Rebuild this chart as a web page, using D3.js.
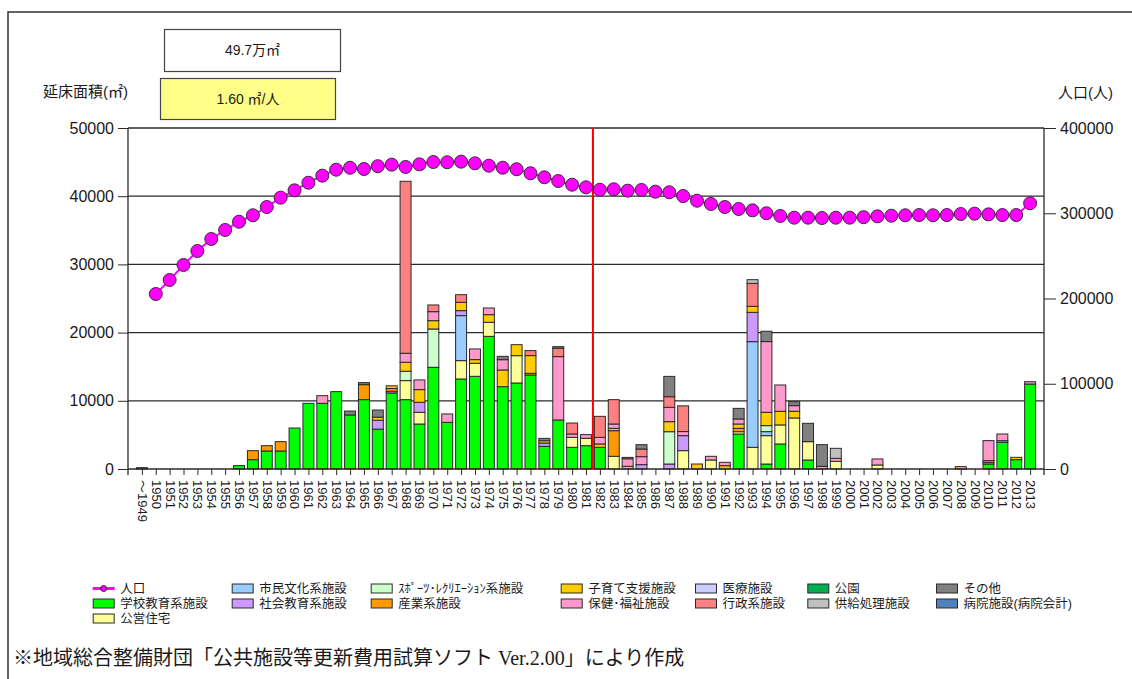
<!DOCTYPE html>
<html>
<head>
<meta charset="utf-8">
<script src="https://cdn.jsdelivr.net/npm/d3@7"></script>
<style>
body { margin: 0; background: #fff; }
svg text { font-family: "Liberation Sans", Arial, "Noto Sans CJK JP", sans-serif; fill: #1a1a1a; }
</style>
</head>
<body>
<div id="chart-area"></div>
<script>
// categories
var years = ["～1949","1950","1951","1952","1953","1954","1955","1956","1957","1958","1959",
    "1960","1961","1962","1963","1964","1965","1966","1967","1968","1969",
    "1970","1971","1972","1973","1974","1975","1976","1977","1978","1979",
    "1980","1981","1982","1983","1984","1985","1986","1987","1988","1989",
    "1990","1991","1992","1993","1994","1995","1996","1997","1998","1999",
    "2000","2001","2002","2003","2004","2005","2006","2007","2008","2009",
    "2010","2011","2012","2013"]

// population (人), right axis
var population = [null,205300,221700,239300,255700,269800,280400,290100,297600,307300,318300,
    326900,335800,344100,351100,353400,351900,355200,357000,354300,357400,
    360100,359800,360500,358600,355800,353400,351600,346900,342200,337800,
    333500,330400,327600,328100,326500,327300,325300,324600,320200,314700,
    310900,307300,305000,303400,300000,296800,294800,294800,294400,294800,
    294800,295400,296400,297100,297600,297900,297600,297900,299100,299500,
    298700,297900,297900,311700]

// floor area (㎡) by facility type, [year, value]
var school = [["～1949",200],["1956",500],["1957",1370],["1958",2640],["1959",2640],["1960",6010],
    ["1961",9630],["1962",9630],["1963",11340],["1964",7920],["1965",10170],["1966",5850],
    ["1967",11150],["1968",10170],["1969",6600],["1970",14910],["1971",6840],["1972",13200],
    ["1973",13590],["1974",19450],["1975",12070],["1976",12610],["1977",13780],["1978",3320],
    ["1979",7190],["1980",3180],["1981",3420],["1982",3180],["1992",5130],["1994",730],
    ["1995",3670],["1997",1320],["2010",730],["2011",3910],["2012",1370],["2013",12460]]
var housing = [["1968",2790],["1969",1710],["1972",2690],["1973",1910],["1974",2060],["1976",4010],
    ["1980",1460],["1981",1080],["1983",1860],["1988",2690],["1990",1320],["1992",340],
    ["1993",3180],["1994",4160],["1995",2790],["1996",7480],["1997",2690],["1999",1120],["2002",590]]
var culture = [["1972",6600],["1993",15490],["1994",590]]
var socialEdu = [["1966",1300],["1967",250],["1969",1470],["1972",730],["1978",490],["1985",640],
    ["1987",730],["1988",2200],["1993",4300]]
var sports = [["1968",1370],["1970",5620],["1987",4740],["1994",880]]
var industry = [["1957",1320],["1958",780],["1959",1370],["1965",2200],["1967",400],["1977",250],
    ["1983",3760],["1992",490],["2010",250]]
var childcare = [["1966",450],["1967",400],["1968",1320],["1969",1860],["1970",1220],["1972",1220],
    ["1973",540],["1974",1120],["1975",2450],["1976",1610],["1977",2600],["1978",340],["1982",490],
    ["1983",340],["1984",400],["1987",1470],["1989",730],["1991",490],["1992",640],["1993",880],
    ["1994",1960],["1995",2000],["1996",980],["2008",350],["2010",250],["2011",240],["2012",340]]
var welfare = [["1962",1120],["1968",1320],["1969",1420],["1970",1320],["1971",1230],["1973",1560],
    ["1974",980],["1975",1510],["1979",9290],["1980",500],["1981",540],["1982",970],["1983",640],
    ["1984",1100],["1985",1170],["1987",2100],["1988",600],["1990",540],["1991",490],["1992",730],
    ["1994",10360],["1995",3860],["1996",830],["1998",390],["1999",440],["2002",880],["2010",2930],
    ["2011",980],["2013",340]]
var medical = []
var admin = [["1968",25220],["1970",980],["1972",1120],["1977",730],["1979",1220],["1980",1600],
    ["1982",3080],["1983",3570],["1984",200],["1985",1120],["1987",1560],["1988",3770],["1993",3370]]
var park = []
var supply = [["1993",540],["1999",1470]]
var other = [["1964",580],["1965",300],["1966",1050],["1975",490],["1978",340],["1979",240],
    ["1985",640],["1987",2980],["1992",1560],["1994",1520],["1996",580],["1997",2690],["1998",3180]]
var hospital = []

var seriesNames = ["学校教育系施設","公営住宅","市民文化系施設","社会教育系施設","ｽﾎﾟｰﾂ･ﾚｸﾘｴｰｼｮﾝ系施設",
    "産業系施設","子育て支援施設","保健･福祉施設","医療施設","行政系施設","公園","供給処理施設",
    "その他","病院施設(病院会計)"]
var seriesData = [school, housing, culture, socialEdu, sports, industry, childcare, welfare,
    medical, admin, park, supply, other, hospital]
var seriesColors = ["#00FF00","#FFFF99","#99CCFF","#CC99FF","#CCFFCC","#FF9900","#FFCC00",
    "#FF99CC","#CCCCFF","#FF8080","#00B050","#C0C0C0","#808080","#4F81BD"]

var leftTicks = [0, 10000, 20000, 30000, 40000, 50000]
var rightTicks = [0, 100000, 200000, 300000, 400000]
var totalArea = "49.7万㎡"
var perCapita = "1.60 ㎡/人"

var margin = { left:128, right:88, top:128, bottom:210 }
var width = 1132 - margin.left - margin.right,
    height = 679 - margin.top - margin.bottom

var svg = d3.select("#chart-area")
    .append("svg")
    .attr("width", 1132)
    .attr("height", 679)

// outer frame
svg.append("path")
    .attr("d", "M8,679 L8,12 L1132,12")
    .attr("fill", "none")
    .attr("stroke", "#333")
    .attr("stroke-width", 1.5)

var g = svg.append("g")
    .attr("transform", "translate(" + margin.left + ", " + margin.top + ")")

var x = d3.scalePoint()
    .domain(years)
    .range([0, width])
    .padding(1)
var y = d3.scaleLinear()
    .domain([0, 50000])
    .range([height, 0])
var y2 = d3.scaleLinear()
    .domain([0, 400000])
    .range([height, 0])

// build table for stacking
var keys = seriesNames
var table = years.map(yr => {
    var row = { year: yr }
    seriesData.forEach((s, i) => {
        var hit = s.find(p => p[0] === yr)
        row[keys[i]] = hit ? hit[1] : 0
    })
    return row
})
var stacked = d3.stack().keys(keys)(table)
var color = d3.scaleOrdinal().domain(keys).range(seriesColors)

// gridlines
g.selectAll("line.grid")
    .data(leftTicks.filter(d => d > 0))
    .enter().append("line")
    .attr("class", "grid")
    .attr("x1", 0).attr("x2", width)
    .attr("y1", d => y(d)).attr("y2", d => y(d))
    .attr("stroke", "#2a2a2a")
    .attr("stroke-width", 1.2)

// bars
var barW = x.step() * 0.79
g.selectAll("g.layer")
    .data(stacked)
    .enter().append("g")
    .attr("class", "layer")
    .attr("fill", d => color(d.key))
    .selectAll("rect")
    .data(d => d.filter(s => s[1] > s[0]))
    .enter().append("rect")
    .attr("x", d => x(d.data.year) - barW / 2)
    .attr("y", d => y(d[1]))
    .attr("width", barW)
    .attr("height", d => y(d[0]) - y(d[1]))
    .attr("stroke", "#2a2a2a")
    .attr("stroke-width", 1)

// axes
var leftAxis = d3.axisLeft(y)
    .tickValues(leftTicks)
    .tickSize(10)
    .tickSizeOuter(0)
    .tickPadding(4)
    .tickFormat(d3.format("d"))
g.append("g")
    .attr("class", "y axis")
    .call(leftAxis)
    .call(a => a.select(".domain").remove())
    .selectAll("text").style("font-size", "16px")

var rightAxis = d3.axisRight(y2)
    .tickValues(rightTicks)
    .tickSize(12)
    .tickSizeOuter(0)
    .tickPadding(4)
    .tickFormat(d3.format("d"))
g.append("g")
    .attr("class", "y2 axis")
    .attr("transform", "translate(" + width + ",0)")
    .call(rightAxis)
    .call(a => a.select(".domain").remove())
    .selectAll("text").style("font-size", "16px")

var bottomAxis = d3.axisBottom(x)
    .tickSize(6)
    .tickSizeOuter(0)
g.append("g")
    .attr("class", "x axis")
    .attr("transform", "translate(0," + height + ")")
    .call(bottomAxis)
    .call(a => a.select(".domain").remove())
    .selectAll("text")
    .attr("transform", "rotate(90)")
    .attr("x", 11)
    .attr("y", 0)
    .attr("dy", "0.35em")
    .attr("text-anchor", "start")
    .style("font-size", "13px")

g.selectAll(".axis line").attr("stroke", "#2a2a2a")

// axis lines
g.append("line").attr("x1", 0).attr("x2", 0).attr("y1", 0).attr("y2", height + 6)
    .attr("stroke", "#2a2a2a").attr("stroke-width", 1.3)
g.append("line").attr("x1", width).attr("x2", width).attr("y1", 0).attr("y2", height + 6)
    .attr("stroke", "#2a2a2a").attr("stroke-width", 1.3)
g.append("line").attr("x1", 0).attr("x2", width).attr("y1", 0).attr("y2", 0)
    .attr("stroke", "#2a2a2a").attr("stroke-width", 1.2)
g.append("line").attr("x1", 0).attr("x2", width).attr("y1", height).attr("y2", height)
    .attr("stroke", "#2a2a2a").attr("stroke-width", 1.3)

// red marker between 1981 and 1982
var redX = (x("1981") + x("1982")) / 2
g.append("line")
    .attr("x1", redX).attr("x2", redX)
    .attr("y1", 0).attr("y2", height)
    .attr("stroke", "#FF0000")
    .attr("stroke-width", 2)

// population line
var popData = years.map((yr, i) => ({ year: yr, pop: population[i] }))
var line = d3.line()
    .defined(d => d.pop != null)
    .x(d => x(d.year))
    .y(d => y2(d.pop))
g.append("path")
    .datum(popData)
    .attr("fill", "none")
    .attr("stroke", "#FF00FF")
    .attr("stroke-width", 2)
    .attr("d", line)
g.selectAll("circle.pop")
    .data(popData.filter(d => d.pop != null))
    .enter().append("circle")
    .attr("class", "pop")
    .attr("cx", d => x(d.year))
    .attr("cy", d => y2(d.pop))
    .attr("r", 6.5)
    .attr("fill", "#FF00FF")
    .attr("stroke", "#3a2a3a")
    .attr("stroke-width", 1)

// axis titles
svg.append("text")
    .attr("x", 43).attr("y", 92)
    .attr("dy", "0.35em")
    .style("font-size", "15px")
    .text("延床面積(㎡)")
svg.append("text")
    .attr("x", 1058).attr("y", 93)
    .attr("dy", "0.35em")
    .style("font-size", "15px")
    .text("人口(人)")

// summary boxes
svg.append("rect")
    .attr("x", 164.5).attr("y", 29.5).attr("width", 176).attr("height", 42)
    .attr("fill", "#fff").attr("stroke", "#444").attr("stroke-width", 1.2)
svg.append("text")
    .attr("x", 252.5).attr("y", 50.5).attr("dy", "0.35em")
    .attr("text-anchor", "middle")
    .style("font-size", "14px")
    .text(totalArea)
svg.append("rect")
    .attr("x", 160.5).attr("y", 78.5).attr("width", 175).attr("height", 41)
    .attr("fill", "#FFFF88").attr("stroke", "#444").attr("stroke-width", 1.2)
svg.append("text")
    .attr("x", 248).attr("y", 99).attr("dy", "0.35em")
    .attr("text-anchor", "middle")
    .style("font-size", "14px")
    .text(perCapita)

// legend
var legendColX = [92.7, 231.7, 370.7, 560.7, 695, 807.3, 936]
var legendRowY = [588.5, 603.5, 618.5]
var legend = svg.append("g").attr("class", "legend")

var popItem = legend.append("g")
    .attr("transform", "translate(" + legendColX[0] + "," + legendRowY[0] + ")")
popItem.append("line").attr("x1", 0).attr("x2", 22).attr("y1", 0).attr("y2", 0)
    .attr("stroke", "#FF00FF").attr("stroke-width", 3)
popItem.append("circle").attr("cx", 11).attr("cy", 0).attr("r", 3)
    .attr("fill", "#FF00FF").attr("stroke", "#3a2a3a").attr("stroke-width", 1)
popItem.append("text").attr("x", 27.5).attr("y", 0).attr("dy", "0.36em")
    .style("font-size", "12.5px").text("人口")

keys.forEach((k, i) => {
    var col = i < 2 ? 0 : Math.floor((i - 2) / 2) + 1
    var row = i < 2 ? i + 1 : (i - 2) % 2
    var item = legend.append("g")
        .attr("transform", "translate(" + legendColX[col] + "," + legendRowY[row] + ")")
    item.append("rect")
        .attr("x", 0.5).attr("y", -4.5).attr("width", 21).attr("height", 9)
        .attr("fill", color(k)).attr("stroke", "#2a2a2a").attr("stroke-width", 1)
    item.append("text").attr("x", 27.5).attr("y", 0).attr("dy", "0.36em")
        .style("font-size", "12.5px").text(k)
})

// source note
svg.append("text")
    .attr("x", 13).attr("y", 658).attr("dy", "0.35em")
    .style("font-family", "'Liberation Serif', 'Noto Sans CJK JP', serif")
    .style("font-size", "20px")
    .text("※地域総合整備財団「公共施設等更新費用試算ソフト Ver.2.00」により作成")
</script>
</body>
</html>
